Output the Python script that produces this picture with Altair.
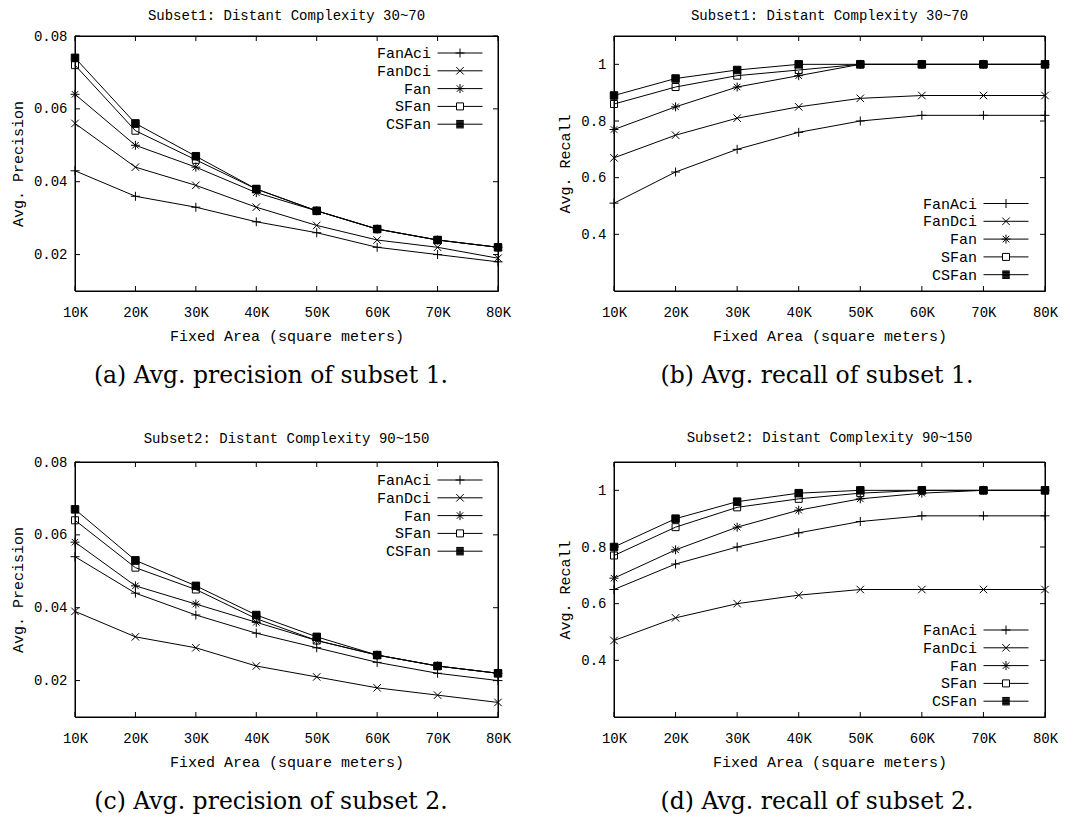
import altair as alt
import pandas as pd

# ---------------- data ----------------
x_vals = [10, 20, 30, 40, 50, 60, 70, 80]
series = ["FanAci", "FanDci", "Fan", "SFan", "CSFan"]

# (a) precision, subset 1
p1_fanaci = [0.043, 0.036, 0.033, 0.029, 0.026, 0.022, 0.020, 0.018]
p1_fandci = [0.056, 0.044, 0.039, 0.033, 0.028, 0.024, 0.022, 0.019]
p1_fan = [0.064, 0.050, 0.044, 0.037, 0.032, 0.027, 0.024, 0.022]
p1_sfan = [0.072, 0.054, 0.046, 0.038, 0.032, 0.027, 0.024, 0.022]
p1_csfan = [0.074, 0.056, 0.047, 0.038, 0.032, 0.027, 0.024, 0.022]

# (b) recall, subset 1
r1_fanaci = [0.51, 0.62, 0.70, 0.76, 0.80, 0.82, 0.82, 0.82]
r1_fandci = [0.67, 0.75, 0.81, 0.85, 0.88, 0.89, 0.89, 0.89]
r1_fan = [0.77, 0.85, 0.92, 0.96, 1.00, 1.00, 1.00, 1.00]
r1_sfan = [0.86, 0.92, 0.96, 0.98, 1.00, 1.00, 1.00, 1.00]
r1_csfan = [0.89, 0.95, 0.98, 1.00, 1.00, 1.00, 1.00, 1.00]

# (c) precision, subset 2
p2_fanaci = [0.054, 0.044, 0.038, 0.033, 0.029, 0.025, 0.022, 0.020]
p2_fandci = [0.039, 0.032, 0.029, 0.024, 0.021, 0.018, 0.016, 0.014]
p2_fan = [0.058, 0.046, 0.041, 0.036, 0.031, 0.027, 0.024, 0.022]
p2_sfan = [0.064, 0.051, 0.045, 0.037, 0.031, 0.027, 0.024, 0.022]
p2_csfan = [0.067, 0.053, 0.046, 0.038, 0.032, 0.027, 0.024, 0.022]

# (d) recall, subset 2
r2_fanaci = [0.65, 0.74, 0.80, 0.85, 0.89, 0.91, 0.91, 0.91]
r2_fandci = [0.47, 0.55, 0.60, 0.63, 0.65, 0.65, 0.65, 0.65]
r2_fan = [0.69, 0.79, 0.87, 0.93, 0.97, 0.99, 1.00, 1.00]
r2_sfan = [0.77, 0.87, 0.94, 0.97, 0.99, 1.00, 1.00, 1.00]
r2_csfan = [0.80, 0.90, 0.96, 0.99, 1.00, 1.00, 1.00, 1.00]

prec_ticks = [0.02, 0.04, 0.06, 0.08]
rec_ticks = [0.4, 0.6, 0.8, 1.0]

titles = ["Subset1: Distant Complexity 30~70", "Subset1: Distant Complexity 30~70",
          "Subset2: Distant Complexity 90~150", "Subset2: Distant Complexity 90~150"]
captions = ["(a) Avg. precision of subset 1.", "(b) Avg. recall of subset 1.",
            "(c) Avg. precision of subset 2.", "(d) Avg. recall of subset 2."]

# ---------------- styles ----------------
MONO = "Liberation Mono"
SERIF = "DejaVu Serif"

marker_paths = [
    "M-0.9,0H0.9M0,-0.9V0.9",
    "M-0.75,-0.75L0.75,0.75M-0.75,0.75L0.75,-0.75",
    "M-0.9,0H0.9M0,-0.9V0.9M-0.65,-0.65L0.65,0.65M-0.65,0.65L0.65,-0.65",
    "M-0.7,-0.7H0.7M0.7,-0.7V0.7M0.7,0.7H-0.7M-0.7,0.7V-0.7",
    "M-0.75,-0.75H0.75V0.75H-0.75Z",
]
# solid square drawn with strokes only (legend symbols are stroked, not filled)
SOLID_SQ = "".join("M-0.75,%.2fH0.75" % (-0.75 + 0.15 * i) for i in range(11))
LINE = "M-4.5,0H4.5"
legend_paths = [
    LINE + marker_paths[0],
    LINE + marker_paths[1],
    LINE + marker_paths[2],
    "M-4.5,0H-0.7M0.7,0H4.5" + marker_paths[3],
    LINE + SOLID_SQ,
]


def long_df(cols):
    rows = []
    for name, vals in zip(series, cols):
        for xv, yv in zip(x_vals, vals):
            rows.append({"series": name, "x": xv, "y": yv})
    return pd.DataFrame(rows)


def panel(cols, title, ytitle, ydomain, yticks, yfmt, W, H, lx, ly, caption, cap_x, title_offset):
    df = long_df(cols)
    xsc = alt.Scale(domain=[10, 80], nice=False, zero=False)
    ysc = alt.Scale(domain=ydomain, nice=False, zero=False)
    xax = alt.Axis(values=x_vals, labelExpr="datum.value + 'K'", title="Fixed Area (square meters)",
                   labelPadding=14, titlePadding=9, labelFlush=False)
    yax = alt.Axis(values=yticks, format=yfmt, title=ytitle, labelPadding=8, titlePadding=8,
                   labelFlush=False)
    X = alt.X("x:Q", scale=xsc, axis=xax)
    Y = alt.Y("y:Q", scale=ysc, axis=yax)

    base = alt.Chart(df)
    frame = alt.Chart(pd.DataFrame({"f": [0]})).mark_rect(
        filled=False, stroke="black", strokeWidth=1).encode(
        x=alt.value(0), x2=alt.value(W), y=alt.value(0), y2=alt.value(H))
    lines = base.mark_line(color="black", strokeWidth=1).encode(
        x=X, y=Y, detail="series:N", order="x:Q")
    pts = base.mark_point(filled=True, size=100, color="black", stroke="black",
                          strokeWidth=1, opacity=1).encode(
        x=X, y=Y,
        shape=alt.Shape("series:N", scale=alt.Scale(domain=series, range=marker_paths), legend=None))
    leg = base.transform_filter("false").mark_point(
        filled=False, size=100, color="black", strokeWidth=1, opacity=1).encode(
        x=X, y=Y,
        shape=alt.Shape("series:N", scale=alt.Scale(domain=series, range=legend_paths),
                        legend=alt.Legend(title=None, orient="none", legendX=lx, legendY=ly,
                                          labelAlign="right", labelOffset={"expr": "-36.5"},
                                          symbolOffset=0,
                                          symbolSize=100, symbolStrokeColor="black",
                                          symbolStrokeWidth=1,
                                          labelFont=MONO, labelFontSize=15, labelColor="black",
                                          rowPadding=1.8, padding=0)))
    xt = alt.Chart(pd.DataFrame({"x": x_vals}))
    yt = alt.Chart(pd.DataFrame({"y": yticks}))
    tb = xt.mark_rule(color="black", strokeWidth=1).encode(x=X, y=alt.value(H), y2=alt.value(H - 5))
    tt = xt.mark_rule(color="black", strokeWidth=1).encode(x=X, y=alt.value(0), y2=alt.value(5))
    tl = yt.mark_rule(color="black", strokeWidth=1).encode(y=Y, x=alt.value(0), x2=alt.value(5))
    tr = yt.mark_rule(color="black", strokeWidth=1).encode(y=Y, x=alt.value(W - 5), x2=alt.value(W))
    cap = alt.Chart(pd.DataFrame({"t": [caption]})).mark_text(
        font=SERIF, fontSize=23.5, align="center", baseline="middle", color="black").encode(
        x=alt.value(cap_x), y=alt.value(H + 85), text="t:N")

    return alt.layer(frame, lines, pts, leg, tb, tt, tl, tr, cap).resolve_scale(
        shape="independent").properties(
        width=W, height=H,
        title=alt.Title(title, font=MONO, fontSize=14, fontWeight="normal", color="black",
                        anchor="middle", offset=title_offset))


WA, WB, H = 423, 431, 255
A = panel([p1_fanaci, p1_fandci, p1_fan, p1_sfan, p1_csfan], titles[0], "Avg. Precision",
          [0.01, 0.08], prec_ticks, ".2f", WA, H, WA - 45.5, 9.5, captions[0], 196, 6)
B = panel([r1_fanaci, r1_fandci, r1_fan, r1_sfan, r1_csfan], titles[1], "Avg. Recall",
          [0.2, 1.1], rec_ticks, "~g", WB, H, WB - 46.5, H - 95, captions[1], 203, 13)
C = panel([p2_fanaci, p2_fandci, p2_fan, p2_sfan, p2_csfan], titles[2], "Avg. Precision",
          [0.01, 0.08], prec_ticks, ".2f", WA, H, WA - 45.5, 10.5, captions[2], 196, 9)
D = panel([r2_fanaci, r2_fandci, r2_fan, r2_sfan, r2_csfan], titles[3], "Avg. Recall",
          [0.2, 1.1], rec_ticks, "~g", WB, H, WB - 46.5, H - 94.5, captions[3], 203, 17)

chart = alt.concat(A, B, C, D, columns=2, spacing=alt.RowColnumber(row=171, column=116),
                   bounds="flush").resolve_scale(
    x="independent", y="independent", shape="independent").resolve_legend(
    shape="independent").resolve_axis(x="independent", y="independent").properties(
    padding={"left": 1, "top": 0, "right": 5, "bottom": 5}, background="white"
).configure_view(stroke="black", strokeWidth=1).configure_axis(
    domain=False, ticks=False, grid=False, labelFont=MONO, labelFontSize=14, labelColor="black",
    titleFont=MONO, titleFontSize=15, titleFontWeight="normal", titleColor="black"
)

chart.save("out.html", embed_options={"renderer": "svg", "actions": False})
